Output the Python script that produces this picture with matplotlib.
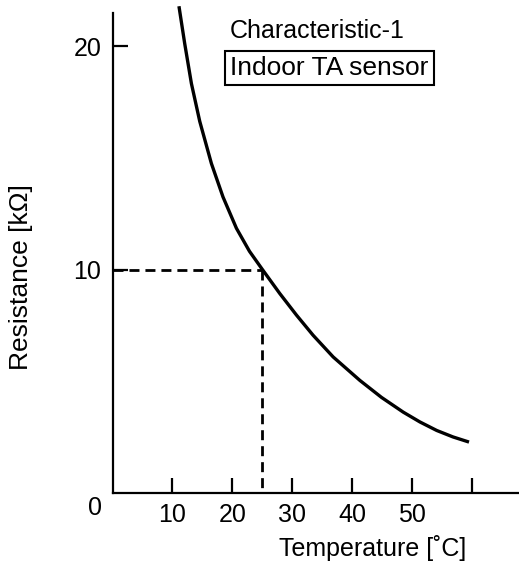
import matplotlib
matplotlib.use("Agg")
import matplotlib.pyplot as plt

plt.rcParams['font.family'] = ['Liberation Sans', 'DejaVu Sans']
plt.rcParams['lines.scale_dashes'] = False

# Curve: temperature [°C] and resistance [kΩ]
temperature = [11.10, 12.06, 13.18, 14.57, 16.52, 18.46, 20.70, 22.88, 25.05,
               27.94, 30.74, 33.51, 36.86, 41.32, 44.93, 48.56, 51.35, 54.15, 56.87, 59.55]
resistance = [21.79, 20.12, 18.33, 16.64, 14.75, 13.25, 11.85, 10.82, 10.00,
              8.93, 7.96, 7.06, 6.09, 5.04, 4.28, 3.62, 3.18, 2.80, 2.51, 2.28]

ref_temp = 25
ref_res = 10

x_ticks = [10, 20, 30, 40, 50, 60]
x_tick_labels = ['10', '20', '30', '40', '50', '']
y_ticks = [10, 20]
y_tick_labels = ['10', '20']

W, H = 519, 562
fig = plt.figure(figsize=(W / 100, H / 100), dpi=100)
ax = fig.add_axes([112.5 / W, (H - 493) / H, (W - 112.5) / W, (493 - 12.7) / H])

ax.plot(temperature, resistance, color='black', lw=2.4, solid_capstyle='butt',
        solid_joinstyle='round', clip_on=False)
ax.plot([0, ref_temp], [ref_res, ref_res], color='black', lw=2.0, dashes=(7.2, 4.3))
ax.plot([ref_temp, ref_temp], [ref_res, 0], color='black', lw=2.0, dashes=(7.2, 4.3))

ax.set_xlim(0, 67.9)
ax.set_ylim(0, 21.5)
for s in ['top', 'right']:
    ax.spines[s].set_visible(False)
for s in ['left', 'bottom']:
    ax.spines[s].set_linewidth(1.6)

ax.set_xticks(x_ticks)
ax.set_xticklabels(x_tick_labels)
ax.set_yticks(y_ticks)
ax.set_yticklabels(y_tick_labels)
ax.tick_params(direction='in', length=10.5, width=1.6, labelsize=18, color='black')
ax.tick_params(axis='x', pad=7)
ax.tick_params(axis='y', pad=8)

ax.text(-3.0, -0.69, '0', fontsize=18, ha='center', va='center', clip_on=False)

ax.set_xlabel('Temperature [˚C]', fontsize=18)
ax.xaxis.set_label_coords(0.641, -0.088)
ax.set_ylabel('Resistance [kΩ]', fontsize=19)
ax.yaxis.set_label_coords(-0.195, 0.45)

ax.text(230 / W, 1 - 31 / H, 'Characteristic-1', transform=fig.transFigure,
        fontsize=18, ha='left', va='center')
ax.text(230 / W, 1 - 68 / H, 'Indoor TA sensor', transform=fig.transFigure,
        fontsize=19, ha='left', va='center',
        bbox=dict(boxstyle='square,pad=0.2', fc='white', ec='black', lw=1.5))

fig.savefig('out.png', dpi=100)
